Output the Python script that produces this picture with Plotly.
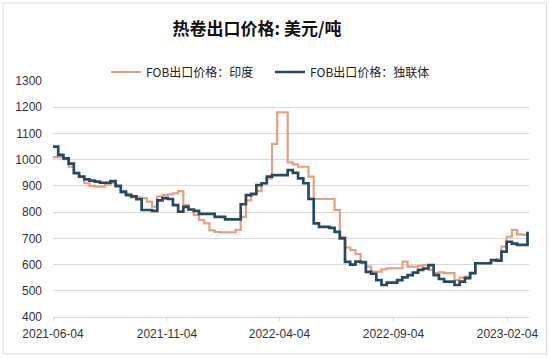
import pandas as pd
import plotly.graph_objects as go

# Weekly (Friday) observation dates
dates = pd.date_range("2021-06-04", periods=92, freq="7D")

# FOB export price: India (USD/t)
india = [1010, 1010, 1002, 973, 950, 935, 910, 900, 897, 897,
         905, 910, 897, 873, 870, 856, 856, 853, 840, 821,
         860, 865, 868, 872, 880, 827, 808, 789, 770, 757,
         730, 725, 723, 723, 723, 732, 782, 845, 865, 880,
         910, 929, 1060, 1180, 1180, 990, 982, 973, 973, 935,
         850, 850, 850, 850, 808, 706, 665, 655, 640, 611,
         592, 573, 573, 582, 586, 586, 586, 611, 592, 592,
         595, 598, 580, 567, 570, 567, 567, 541, 550, 554,
         567, 605, 605, 605, 617, 620, 668, 706, 732, 715,
         713, 725]

# FOB export price: CIS (USD/t)
cis = [1050, 1018, 1005, 985, 949, 935, 925, 920, 916, 912,
       912, 918, 900, 878, 865, 860, 849, 808, 808, 805,
       845, 853, 850, 827, 802, 820, 810, 805, 793, 793,
       793, 782, 782, 772, 772, 772, 830, 865, 870, 903,
       910, 935, 941, 941, 941, 960, 950, 929, 910, 850,
       757, 744, 744, 740, 725, 700, 610, 600, 611, 608,
       572, 565, 541, 522, 531, 531, 541, 551, 560, 569,
       580, 585, 598, 560, 545, 535, 535, 522, 535, 548,
       567, 605, 605, 605, 617, 615, 649, 687, 680, 675,
       675, 725]

tick_dates = ["2021-06-04", "2021-11-04", "2022-04-04", "2022-09-04", "2023-02-04"]

ORANGE = "#E69F80"
BLUE = "#274B5E"
GRID = "#D9D9D9"
CJK = "Noto Sans CJK SC"

fig = go.Figure()
fig.add_trace(go.Scatter(x=dates, y=india, mode="lines", name="FOB出口价格：印度",
                         line=dict(color=ORANGE, width=2.2, shape="hv")))
fig.add_trace(go.Scatter(x=dates, y=cis, mode="lines", name="FOB出口价格：独联体",
                         line=dict(color=BLUE, width=2.7, shape="hv")))

L, R, T, B = 53, 21, 81, 41
W, H = 550, 358
pw, ph = W - L - R, H - T - B

def px_x(px):
    return (px - L) / pw

def px_y(py):
    return (H - B - py) / ph

fig.add_shape(type="rect", xref="paper", yref="paper",
              x0=px_x(3), x1=px_x(546.5), y0=px_y(354), y1=px_y(3),
              line=dict(color="#DCDCDC", width=1), layer="below")

fig.update_layout(
    width=W, height=H,
    margin=dict(l=L, r=R, t=T, b=B),
    paper_bgcolor="white", plot_bgcolor="white",
    title=dict(text="热卷出口价格: 美元/吨", x=257 / W, xanchor="center",
               y=1 - 29 / H, yanchor="middle",
               font=dict(family=CJK, size=17, color="#111111", weight=700)),
    legend=dict(orientation="h", x=px_x(106), xanchor="left",
                y=px_y(72), yanchor="middle",
                font=dict(family=CJK, size=12, color="#222222"),
                itemwidth=30, entrywidth=119, tracegroupgap=0,
                bgcolor="rgba(0,0,0,0)"),
    showlegend=True,
    font=dict(family="Liberation Sans, Arial", size=12, color="#333333"),
)

fig.update_xaxes(
    range=["2021-06-04", "2023-03-05"],
    tickvals=tick_dates, ticktext=tick_dates,
    showgrid=False, showline=True, linecolor=GRID, linewidth=1,
    ticks="outside", ticklen=3, tickcolor=GRID,
    tickfont=dict(family="Liberation Sans, Arial", size=12, color="#333333"),
    ticklabelstandoff=3, automargin=False,
)
fig.update_yaxes(
    range=[400, 1300], dtick=100,
    showgrid=True, gridcolor=GRID, gridwidth=1,
    zeroline=False, showline=False,
    tickfont=dict(family="Liberation Sans, Arial", size=12, color="#333333"),
    ticklabelstandoff=10, automargin=False,
)

fig.write_html("out.html", config={"displayModeBar": False},
               post_script="document.body.style.margin='0';")
